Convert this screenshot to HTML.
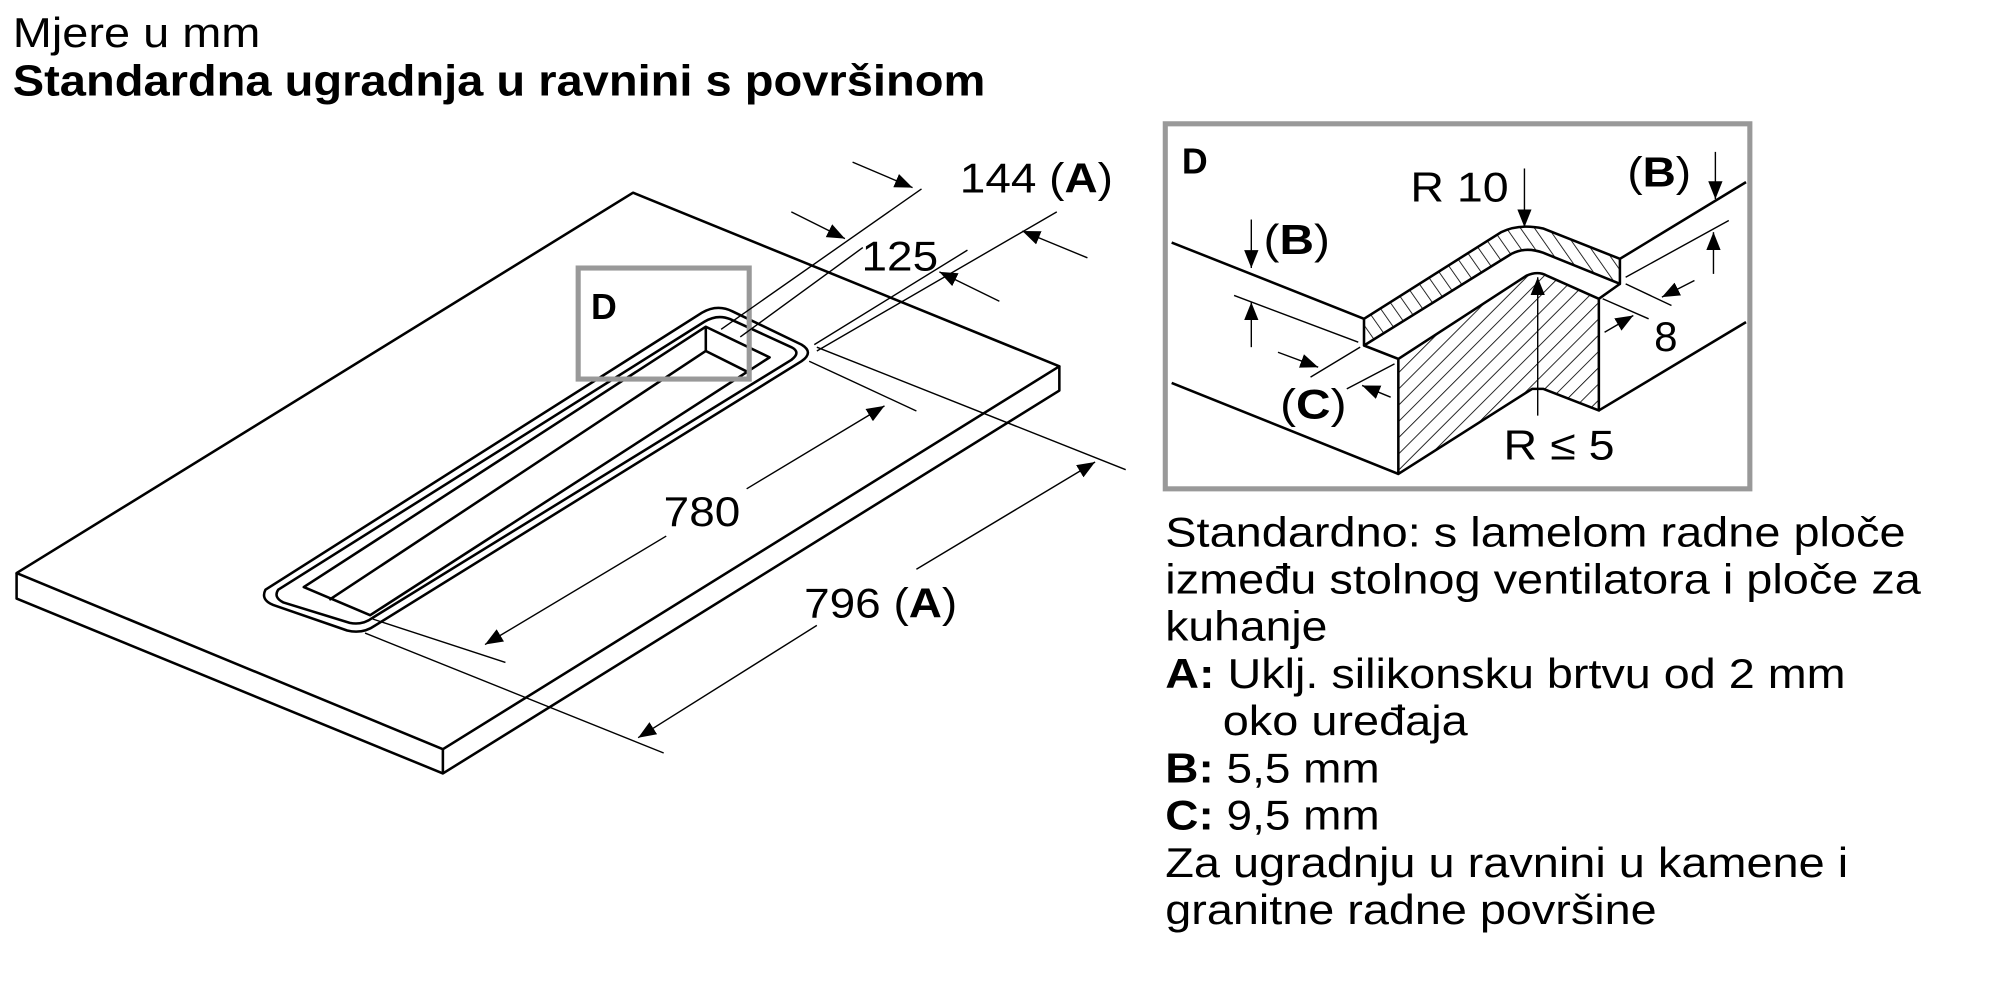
<!DOCTYPE html>
<html><head><meta charset="utf-8"><style>
html,body{margin:0;padding:0;background:#fff;}
svg{display:block;}
text{font-family:"Liberation Sans",Arial,sans-serif;fill:#000;}
</style></head><body>
<svg width="2000" height="1000" viewBox="0 0 1567 783.5" preserveAspectRatio="none" xmlns="http://www.w3.org/2000/svg">
<defs>
<marker id="ar" viewBox="0 0 10 10" refX="10" refY="5" markerWidth="14" markerHeight="14" markerUnits="userSpaceOnUse" orient="auto">
<path d="M0,1 L10,5 L0,9 z" fill="#000"/></marker>
<pattern id="h" width="9" height="9" patternUnits="userSpaceOnUse" patternTransform="rotate(45)">
<line x1="0" y1="0" x2="0" y2="9" stroke="#000" stroke-width="1.3"/></pattern>
<pattern id="h2" width="9" height="9" patternUnits="userSpaceOnUse" patternTransform="rotate(-35)">
<line x1="0" y1="0" x2="0" y2="9" stroke="#000" stroke-width="1.3"/></pattern>
</defs>
<text x="10" y="37" font-size="33" textLength="194" lengthAdjust="spacingAndGlyphs">Mjere u mm</text>
<text x="10" y="75" font-size="34" font-weight="bold" textLength="762" lengthAdjust="spacingAndGlyphs">Standardna ugradnja u ravnini s površinom</text>

<g fill="none" stroke="#000" stroke-width="2" stroke-linejoin="round">
<path d="M13,449 L496,151 L830,287 L347,587 Z"/>
<path d="M13,449 L13,469 L347,606 L830,306 L830,287 M347,587 L347,606"/>
<path d="M208,462 Q204,470 214,474 L272,494 Q284,497 294,490 L628,283 Q638,276 628,270 L574,244 Q562,238 550,245 Z" fill="#fff"/>
<path d="M218,462 Q214,468 222,472 L274,488 Q284,490 292,484 L620,282 Q628,276 620,272 L572,250 Q562,246 552,252 Z"/>
<path d="M238,460 L553,256 L603,280 L290,482 Z"/>
<path d="M553,256 L553,275 L587,292 M553,275 L258,470"/>
</g>
<rect x="453" y="210" width="134" height="87" fill="none" stroke="#999" stroke-width="4"/>
<text x="463" y="250" font-size="28" font-weight="bold">D</text>

<g stroke="#000" stroke-width="1.1" fill="none">
<line x1="565" y1="258" x2="722" y2="148"/>
<line x1="580" y1="264" x2="676" y2="194"/>
<line x1="638" y1="270" x2="758" y2="196"/>
<line x1="640" y1="275" x2="828" y2="166"/>
<line x1="668" y1="127" x2="715" y2="147" marker-end="url(#ar)"/>
<line x1="620" y1="166" x2="662" y2="187" marker-end="url(#ar)"/>
<line x1="852" y1="202" x2="801" y2="181" marker-end="url(#ar)"/>
<line x1="783" y1="236" x2="736" y2="213" marker-end="url(#ar)"/>
<line x1="634" y1="283" x2="718" y2="322"/>
<line x1="292" y1="485" x2="396" y2="519"/>
<line x1="585" y1="383" x2="693" y2="318" marker-end="url(#ar)"/>
<line x1="522" y1="420" x2="380" y2="505" marker-end="url(#ar)"/>
<line x1="640" y1="272" x2="882" y2="368"/>
<line x1="286" y1="496" x2="520" y2="590"/>
<line x1="718" y1="446" x2="858" y2="362" marker-end="url(#ar)"/>
<line x1="640" y1="490" x2="500" y2="578" marker-end="url(#ar)"/>
</g>
<text x="752" y="151" font-size="33" textLength="120" lengthAdjust="spacingAndGlyphs">144 (<tspan font-weight="bold">A</tspan>)</text>
<text x="675" y="212" font-size="33" textLength="60" lengthAdjust="spacingAndGlyphs">125</text>
<text x="520" y="412" font-size="33" textLength="60" lengthAdjust="spacingAndGlyphs">780</text>
<text x="630" y="484" font-size="33" textLength="120" lengthAdjust="spacingAndGlyphs">796 (<tspan font-weight="bold">A</tspan>)</text>

<rect x="913" y="97" width="458" height="286" fill="#fff" stroke="#999" stroke-width="4"/>
<text x="926" y="136" font-size="28" font-weight="bold">D</text>
<g stroke="#000" stroke-width="2" stroke-linejoin="round">
<path d="M1068.7,249.8 L1176,182 Q1190,175 1209,179 L1269.2,202.8 L1269.2,222.4 L1209,198 Q1195,193 1184,199 L1068.7,270.7 Z" fill="url(#h2)"/>
<path d="M1095.6,281.2 L1196,216 Q1205,212 1212,216 L1252.7,234.1 L1252.7,321.6 L1209.3,304.7 L1200.4,304.7 L1095.6,371.3 Z" fill="url(#h)"/>
<path fill="none" d="M918,190 L1068.7,249.8 M918,300 L1095.6,371.3 M1068.7,270.7 L1095.6,281.2 M1269.2,202.8 L1368,142.7 M1269.2,222.4 L1252.7,234.1 M1252.7,321.6 L1368,252.4"/>
</g>
<g stroke="#000" stroke-width="1.1" fill="none">
<line x1="1194.4" y1="132" x2="1194.4" y2="178" marker-end="url(#ar)"/>
<line x1="1344" y1="119" x2="1344" y2="156" marker-end="url(#ar)"/>
<line x1="980.4" y1="172" x2="980.4" y2="210" marker-end="url(#ar)"/>
<line x1="966.9" y1="231.5" x2="1064.2" y2="268.1"/>
<line x1="980.4" y1="272" x2="980.4" y2="236.8" marker-end="url(#ar)"/>
<line x1="1026.8" y1="295.5" x2="1065.7" y2="272"/>
<line x1="1055.2" y1="304.7" x2="1092.6" y2="285.1"/>
<line x1="1001.3" y1="276" x2="1032.8" y2="287.7" marker-end="url(#ar)"/>
<line x1="1089.6" y1="311.2" x2="1067.2" y2="302" marker-end="url(#ar)"/>
<line x1="1273.7" y1="222.4" x2="1309.6" y2="239.4"/>
<line x1="1273.7" y1="217.2" x2="1354.5" y2="172.8"/>
<line x1="1255.7" y1="234.1" x2="1291.7" y2="249.8"/>
<line x1="1342.5" y1="214.6" x2="1342.5" y2="181.9" marker-end="url(#ar)"/>
<line x1="1327.6" y1="219.8" x2="1302.1" y2="232.8" marker-end="url(#ar)"/>
<line x1="1257.2" y1="260.3" x2="1279.7" y2="247.2" marker-end="url(#ar)"/>
<line x1="1204.8" y1="325.6" x2="1204.8" y2="217.2" marker-end="url(#ar)"/>
</g>
<text x="1105" y="158" font-size="33" textLength="77" lengthAdjust="spacingAndGlyphs">R 10</text>
<text x="1275" y="146" font-size="33" textLength="50" lengthAdjust="spacingAndGlyphs">(<tspan font-weight="bold">B</tspan>)</text>
<text x="990" y="199" font-size="33" textLength="52" lengthAdjust="spacingAndGlyphs">(<tspan font-weight="bold">B</tspan>)</text>
<text x="1003" y="328" font-size="33" textLength="52" lengthAdjust="spacingAndGlyphs">(<tspan font-weight="bold">C</tspan>)</text>
<text x="1296" y="275" font-size="33">8</text>
<text x="1178" y="360" font-size="33" textLength="87" lengthAdjust="spacingAndGlyphs">R ≤ 5</text>

<g font-size="33">
<text x="913" y="428" textLength="580" lengthAdjust="spacingAndGlyphs">Standardno: s lamelom radne ploče</text>
<text x="913" y="465" textLength="592" lengthAdjust="spacingAndGlyphs">između stolnog ventilatora i ploče za</text>
<text x="913" y="502" textLength="127" lengthAdjust="spacingAndGlyphs">kuhanje</text>
<text x="913" y="539" textLength="533" lengthAdjust="spacingAndGlyphs"><tspan font-weight="bold">A:</tspan> Uklj. silikonsku brtvu od 2 mm</text>
<text x="958" y="576" textLength="192" lengthAdjust="spacingAndGlyphs">oko uređaja</text>
<text x="913" y="613" textLength="168" lengthAdjust="spacingAndGlyphs"><tspan font-weight="bold">B:</tspan> 5,5 mm</text>
<text x="913" y="650" textLength="168" lengthAdjust="spacingAndGlyphs"><tspan font-weight="bold">C:</tspan> 9,5 mm</text>
<text x="913" y="687" textLength="535" lengthAdjust="spacingAndGlyphs">Za ugradnju u ravnini u kamene i</text>
<text x="913" y="724" textLength="385" lengthAdjust="spacingAndGlyphs">granitne radne površine</text>
</g>
</svg>
</body></html>
